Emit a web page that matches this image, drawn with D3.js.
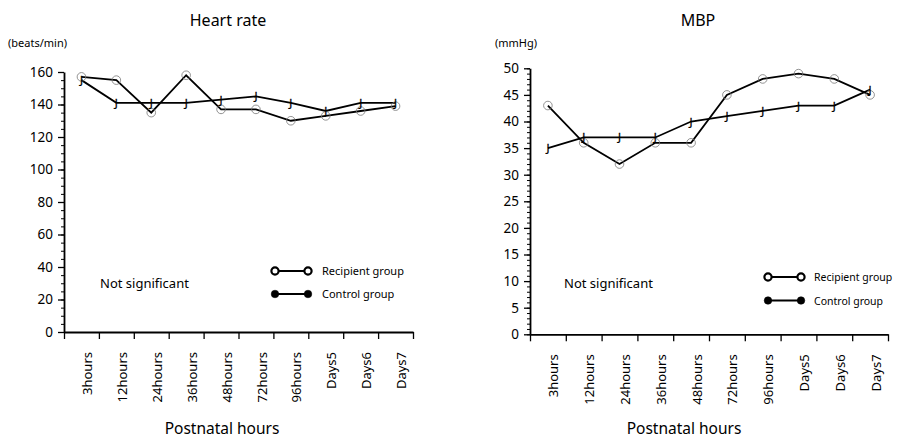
<!DOCTYPE html>
<html>
<head>
<meta charset="utf-8">
<script src="https://cdn.jsdelivr.net/npm/d3@7"></script>
<style>
  html, body { margin: 0; padding: 0; background: #fff; }
  svg { display: block; font-family: "Noto Sans", "Open Sans", sans-serif; }
</style>
</head>
<body>
<svg id="chart" width="899" height="441"></svg>
<script>
// Time points after birth
const categories = ["3hours", "12hours", "24hours", "36hours", "48hours", "72hours", "96hours", "Days5", "Days6", "Days7"];

// Heart rate (beats/min)
const hrRecipient = [157, 155, 135, 158, 137, 137, 130, 133, 136, 139];
const hrControl   = [155, 141, 141, 141, 143, 145, 141, 136, 141, 141];
const hrTicks = [0, 20, 40, 60, 80, 100, 120, 140, 160];

// Mean blood pressure (mmHg)
const mbpRecipient = [43, 36, 32, 36, 36, 45, 48, 49, 48, 45];
const mbpControl   = [35, 37, 37, 37, 40, 41, 42, 43, 43, 46];
const mbpTicks = [0, 5, 10, 15, 20, 25, 30, 35, 40, 45, 50];

const seriesNames = ["Recipient group", "Control group"];

const svg = d3.select("#chart");

function drawPanel(cfg) {
  const g = svg.append("g");

  const x = d3.scaleBand().domain(categories).range([cfg.left, cfg.right]).padding(0);
  const xEdge = d3.scaleLinear().domain([0, categories.length]).range([cfg.left, cfg.right]);
  const y = d3.scaleLinear().domain([0, cfg.max]).range([cfg.bottom, cfg.top]);
  const cx = c => x(c) + x.bandwidth() / 2;

  // Title and unit
  g.append("text").attr("x", cfg.titleX).attr("y", 26)
    .attr("text-anchor", "middle").attr("font-size", 16).text(cfg.title);
  g.append("text").attr("x", cfg.unitX).attr("y", 47)
    .attr("font-size", 11).text(cfg.unit);

  // Minor y ticks
  g.append("g").attr("transform", `translate(${cfg.left},0)`)
    .call(d3.axisLeft(y).tickValues(d3.range(0, cfg.max + 0.001, cfg.minorStep)).tickSize(3).tickFormat(""))
    .call(a => a.select(".domain").remove())
    .call(a => a.selectAll("line").attr("stroke", "#000").attr("stroke-width", 1));

  // Major y ticks with labels
  g.append("g").attr("transform", `translate(${cfg.left},0)`)
    .call(d3.axisLeft(y).tickValues(cfg.ticks).tickSize(6).tickSizeOuter(0).tickPadding(5))
    .call(a => a.select(".domain").attr("stroke", "#000").attr("stroke-width", 1.8))
    .call(a => a.selectAll("line").attr("stroke", "#000").attr("stroke-width", 1.3))
    .call(a => a.selectAll("text").attr("font-size", 13.5).attr("font-family", "Noto Sans").attr("fill", "#000"));

  // Bottom axis: ticks at category boundaries
  g.append("g").attr("transform", `translate(0,${cfg.bottom})`)
    .call(d3.axisBottom(xEdge).tickValues(d3.range(0, categories.length + 1)).tickSize(7).tickSizeOuter(0).tickFormat(""))
    .call(a => a.select(".domain").attr("stroke", "#000").attr("stroke-width", 1.8))
    .call(a => a.selectAll("line").attr("stroke", "#000").attr("stroke-width", 1.3));

  // Category labels, rotated
  g.append("g").selectAll("text").data(categories).join("text")
    .attr("transform", d => `translate(${cx(d) + 6},${cfg.bottom + 20}) rotate(-90)`)
    .attr("text-anchor", "end").attr("dy", "0.35em")
    .attr("font-size", 13).text(d => d);

  g.append("text").attr("x", cfg.xTitleX).attr("y", 434)
    .attr("text-anchor", "middle").attr("font-size", 15.5).text("Postnatal hours");

  // Series lines
  const line = d3.line().x((v, i) => cx(categories[i])).y(v => y(v));
  g.append("path").datum(cfg.control).attr("d", line)
    .attr("fill", "none").attr("stroke", "#000").attr("stroke-width", 1.8);
  g.append("path").datum(cfg.recipient).attr("d", line)
    .attr("fill", "none").attr("stroke", "#000").attr("stroke-width", 1.8);

  // Recipient markers: open circles
  g.append("g").selectAll("circle").data(cfg.recipient).join("circle")
    .attr("cx", (v, i) => cx(categories[i])).attr("cy", v => y(v)).attr("r", 4.3)
    .attr("fill", "none").attr("stroke", "#777").attr("stroke-width", 0.8);

  // Control markers: glyph symbols
  g.append("g").selectAll("text").data(cfg.control).join("text")
    .attr("x", (v, i) => cx(categories[i])).attr("y", v => y(v) + 4)
    .attr("text-anchor", "middle").attr("font-size", 11).attr("font-family", "Noto Sans")
    .attr("fill", "#000").attr("stroke", "#000").attr("stroke-width", 0.3)
    .text("J");

  // Annotation
  g.append("text").attr("x", cfg.nsX).attr("y", 288).attr("font-size", 13).text("Not significant");

  // Legend
  const lg = g.append("g");
  seriesNames.forEach((name, i) => {
    const ly = cfg.legendY[i];
    lg.append("line").attr("x1", cfg.legendX).attr("x2", cfg.legendX + cfg.legendW)
      .attr("y1", ly).attr("y2", ly).attr("stroke", "#000").attr("stroke-width", 2.2);
    [cfg.legendX, cfg.legendX + cfg.legendW].forEach(px => {
      lg.append("circle").attr("cx", px).attr("cy", ly).attr("r", i === 0 ? 3.6 : 3.8)
        .attr("fill", i === 0 ? "#fff" : "#000").attr("stroke", "#000").attr("stroke-width", i === 0 ? 2.2 : 0.5);
    });
    lg.append("text").attr("x", cfg.legendX + cfg.legendW + cfg.legendGap).attr("y", ly + 4)
      .attr("font-size", cfg.legendFont).text(name);
  });
}

drawPanel({
  title: "Heart rate", titleX: 228, unit: "(beats/min)", unitX: 8,
  left: 64, right: 413, top: 72, bottom: 332, max: 160, minorStep: 5, ticks: hrTicks,
  recipient: hrRecipient, control: hrControl,
  xTitleX: 222, nsX: 100, legendX: 275, legendW: 33, legendGap: 14, legendFont: 11, legendY: [271, 294]
});

drawPanel({
  title: "MBP", titleX: 698, unit: "(mmHg)", unitX: 495,
  left: 530, right: 888, top: 68.3, bottom: 334.3, max: 50, minorStep: 1, ticks: mbpTicks,
  recipient: mbpRecipient, control: mbpControl,
  xTitleX: 684, nsX: 564, legendX: 768, legendW: 33, legendGap: 13, legendFont: 10.5, legendY: [277, 300.5]
});
</script>
</body>
</html>
